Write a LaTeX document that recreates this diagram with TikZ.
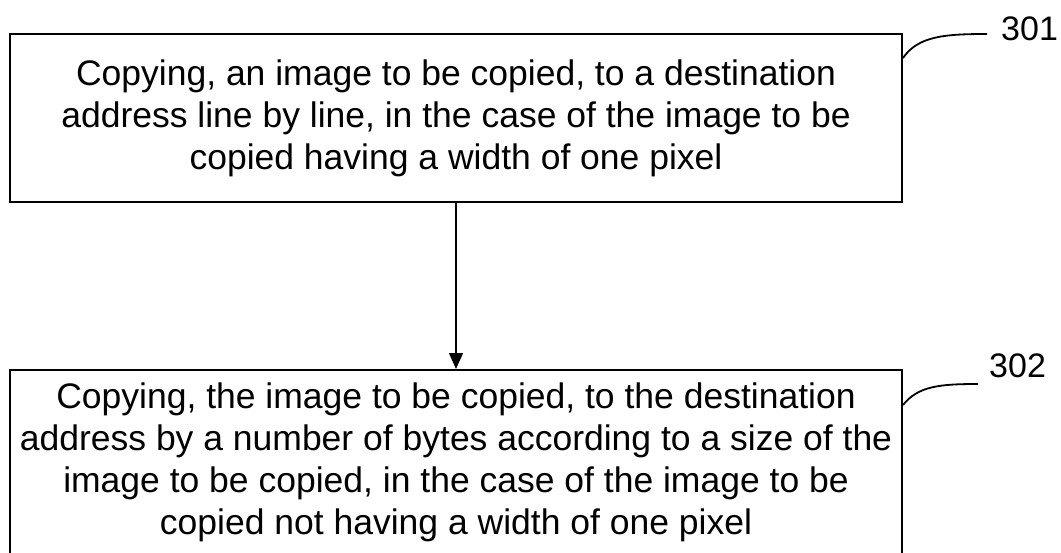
\documentclass[tikz,border=0pt]{standalone}
\usepackage{fontspec}
\setmainfont{Liberation Sans}
\usetikzlibrary{arrows.meta}
\begin{document}
\begin{tikzpicture}[x=1pt,y=-1pt,
  stepbox/.style={draw=black,line width=2pt,minimum width=892pt,align=center,
    inner sep=0pt,font=\fontsize{35.5}{42}\selectfont},
  numlabel/.style={anchor=west,inner sep=0pt,font=\fontsize{34}{34}\selectfont},
  leader/.style={line width=1.8pt},
  flow/.style={line width=1.4pt,-{Triangle[length=16pt,width=14pt]}}]
\useasboundingbox (0,0) rectangle (1061,552);
\node[stepbox,minimum height=168pt] (s301) at (456,118)
  {Copying, an image to be copied, to a destination\\
   address line by line, in the case of the image to be\\
   copied having a width of one pixel};
\node[stepbox,minimum height=184pt] (s302) at (456,462)
  {Copying, the image to be copied, to the destination\\
   address by a number of bytes according to a size of the\\
   image to be copied, in the case of the image to be\\
   copied not having a width of one pixel};
\draw[flow] (s301.south) -- (s302.north);
\node[numlabel] (l301) at (1001,29) {301};
\node[numlabel] (l302) at (989,366) {302};
\coordinate (e301) at (987,34);
\coordinate (e302) at (978,384);
\draw[leader] (s301.east |- 0,58) .. controls (918,36) and (945,34) .. (e301);
\draw[leader] (s302.east |- 0,405) .. controls (918,386) and (940,384) .. (e302);
\end{tikzpicture}
\end{document}
